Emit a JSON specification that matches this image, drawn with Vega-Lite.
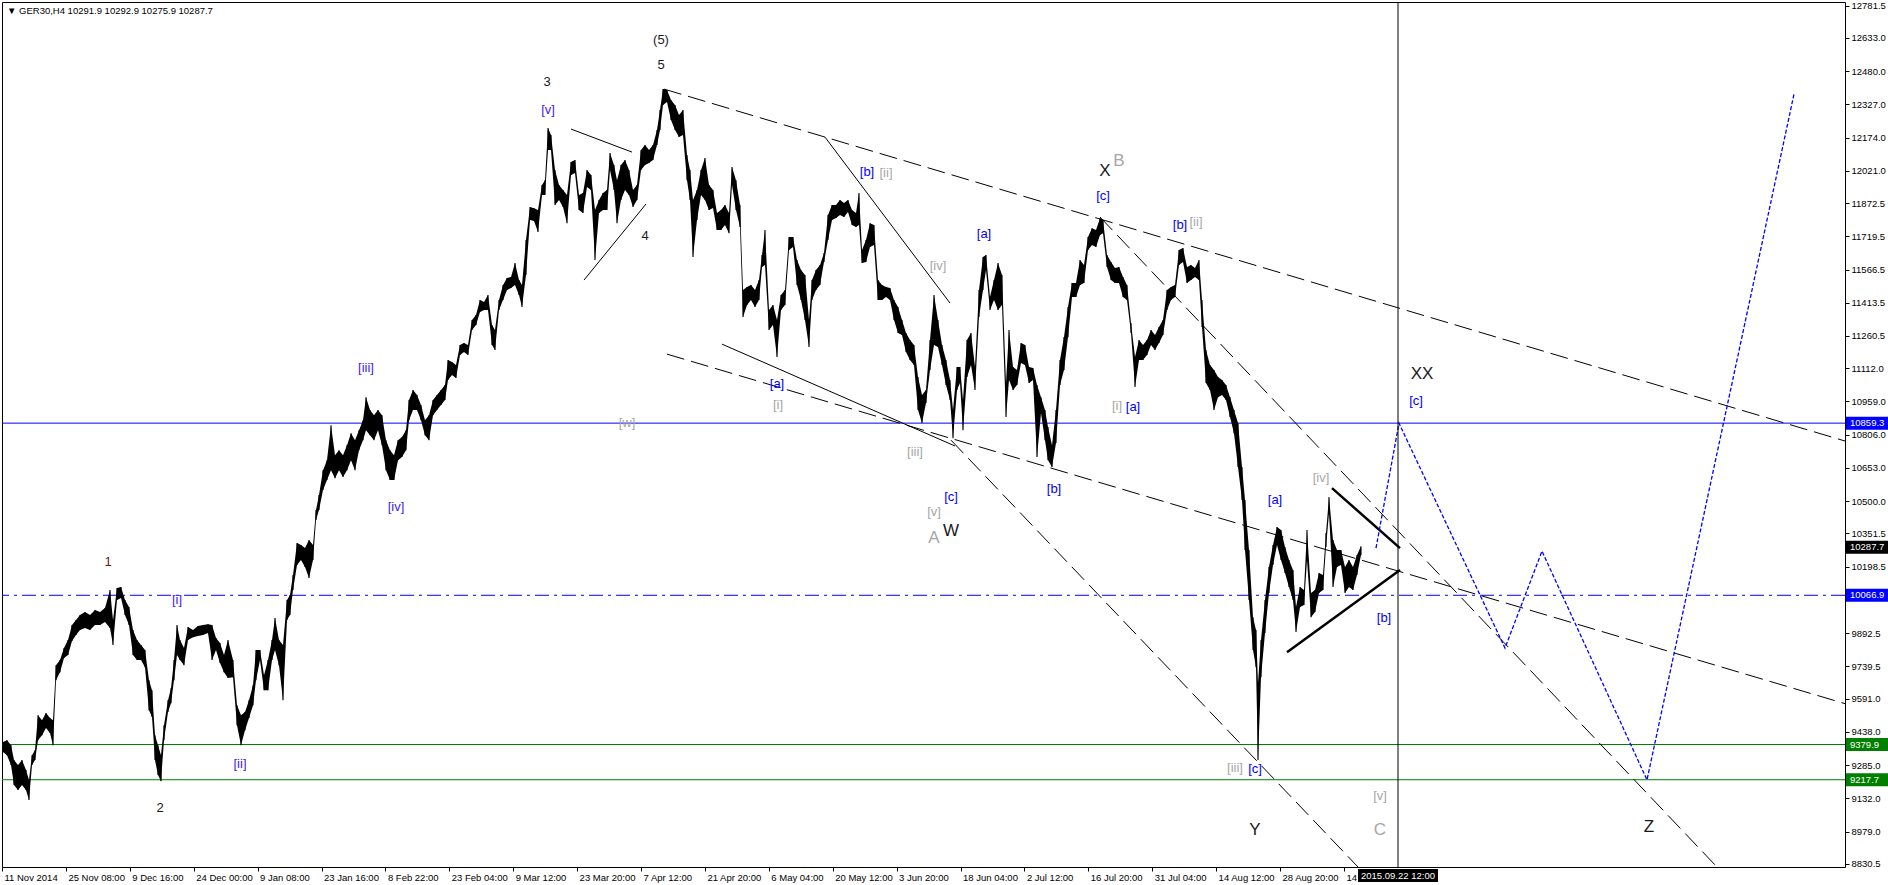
{
"$schema":"https://vega.github.io/schema/vega-lite/v6.json",
"width":1843,"height":865,"autosize":"none",
"padding":{"left":2,"top":2,"right":43,"bottom":18},
"background":"white",
"config":{"view":{"stroke":"black","strokeWidth":1},"font":"Liberation Sans",
 "axis":{"grid":false,"domain":false,"tickColor":"black","tickSize":4,"labelColor":"black","labelFontSize":9.5,"labelFont":"Liberation Sans","labelOverlap":false,"labelFlush":false,"labelBound":false}},
"datasets":{
"one":[{}],
"px":[
{"t":0,"h":9391,"l":9345},{"t":4,"h":9400,"l":9331},{"t":8,"h":9377,"l":9285},{"t":11,"h":9308,"l":9193},{"t":15,"h":9285,"l":9170},{"t":19,"h":9308,"l":9193},{"t":23,"h":9262,"l":9170},{"t":26,"h":9216,"l":9124},{"t":29,"h":9331,"l":9285},{"t":32,"h":9354,"l":9308},{"t":35,"h":9515,"l":9400},{"t":39,"h":9492,"l":9423},{"t":43,"h":9525,"l":9456},{"t":47,"h":9502,"l":9433},{"t":50,"h":9492,"l":9377},{"t":53,"h":9745,"l":9676},{"t":57,"h":9769,"l":9713},{"t":61,"h":9824,"l":9778},{"t":65,"h":9861,"l":9792},{"t":69,"h":9930,"l":9856},{"t":73,"h":9953,"l":9884},{"t":77,"h":9976,"l":9907},{"t":82,"h":9990,"l":9916},{"t":87,"h":9976,"l":9907},{"t":92,"h":9999,"l":9930},{"t":97,"h":9990,"l":9930},{"t":102,"h":10008,"l":9944},{"t":107,"h":10091,"l":9916},{"t":110,"h":9953,"l":9838},{"t":114,"h":10100,"l":10045},{"t":118,"h":10105,"l":10054},{"t":122,"h":10045,"l":9976},{"t":126,"h":10013,"l":9930},{"t":130,"h":9907,"l":9792},{"t":134,"h":9861,"l":9769},{"t":138,"h":9838,"l":9769},{"t":142,"h":9815,"l":9736},{"t":146,"h":9676,"l":9538},{"t":149,"h":9630,"l":9506},{"t":152,"h":9423,"l":9308},{"t":155,"h":9377,"l":9239},{"t":158,"h":9331,"l":9211},{"t":161,"h":9469,"l":9400},{"t":165,"h":9584,"l":9529},{"t":168,"h":9639,"l":9570},{"t":171,"h":9769,"l":9676},{"t":174,"h":9930,"l":9792},{"t":177,"h":9861,"l":9769},{"t":181,"h":9824,"l":9745},{"t":185,"h":9921,"l":9861},{"t":190,"h":9907,"l":9874},{"t":195,"h":9925,"l":9879},{"t":200,"h":9930,"l":9884},{"t":205,"h":9934,"l":9893},{"t":209,"h":9930,"l":9769},{"t":213,"h":9870,"l":9815},{"t":217,"h":9847,"l":9755},{"t":221,"h":9792,"l":9713},{"t":225,"h":9861,"l":9686},{"t":230,"h":9769,"l":9690},{"t":234,"h":9561,"l":9469},{"t":238,"h":9515,"l":9377},{"t":242,"h":9529,"l":9446},{"t":246,"h":9584,"l":9502},{"t":250,"h":9653,"l":9561},{"t":253,"h":9815,"l":9676},{"t":257,"h":9815,"l":9769},{"t":261,"h":9699,"l":9630},{"t":265,"h":9769,"l":9630},{"t":269,"h":9861,"l":9769},{"t":272,"h":9962,"l":9815},{"t":276,"h":9861,"l":9745},{"t":280,"h":9838,"l":9584},{"t":284,"h":10045,"l":9953},{"t":287,"h":10068,"l":9976},{"t":290,"h":10160,"l":10091},{"t":294,"h":10307,"l":10206},{"t":298,"h":10298,"l":10229},{"t":302,"h":10284,"l":10197},{"t":306,"h":10321,"l":10146},{"t":310,"h":10298,"l":10229},{"t":313,"h":10459,"l":10413},{"t":316,"h":10528,"l":10459},{"t":320,"h":10643,"l":10551},{"t":324,"h":10689,"l":10597},{"t":328,"h":10850,"l":10643},{"t":332,"h":10712,"l":10606},{"t":336,"h":10735,"l":10643},{"t":340,"h":10712,"l":10611},{"t":344,"h":10758,"l":10643},{"t":348,"h":10813,"l":10689},{"t":352,"h":10781,"l":10643},{"t":356,"h":10827,"l":10735},{"t":360,"h":10873,"l":10781},{"t":363,"h":10979,"l":10827},{"t":367,"h":10920,"l":10804},{"t":371,"h":10896,"l":10781},{"t":375,"h":10920,"l":10827},{"t":379,"h":10896,"l":10758},{"t":383,"h":10781,"l":10643},{"t":387,"h":10735,"l":10597},{"t":391,"h":10712,"l":10597},{"t":395,"h":10781,"l":10689},{"t":399,"h":10795,"l":10703},{"t":403,"h":10827,"l":10735},{"t":406,"h":10966,"l":10873},{"t":410,"h":11012,"l":10920},{"t":414,"h":10989,"l":10920},{"t":418,"h":10943,"l":10873},{"t":422,"h":10873,"l":10804},{"t":426,"h":10896,"l":10781},{"t":430,"h":10966,"l":10896},{"t":434,"h":10989,"l":10920},{"t":438,"h":11012,"l":10943},{"t":442,"h":11035,"l":10966},{"t":445,"h":11150,"l":11058},{"t":449,"h":11141,"l":11081},{"t":453,"h":11127,"l":11067},{"t":457,"h":11219,"l":11173},{"t":461,"h":11228,"l":11187},{"t":465,"h":11219,"l":11173},{"t":469,"h":11334,"l":11288},{"t":473,"h":11357,"l":11311},{"t":477,"h":11426,"l":11371},{"t":481,"h":11417,"l":11380},{"t":485,"h":11449,"l":11380},{"t":489,"h":11311,"l":11219},{"t":492,"h":11288,"l":11196},{"t":496,"h":11426,"l":11380},{"t":500,"h":11495,"l":11426},{"t":504,"h":11527,"l":11472},{"t":508,"h":11532,"l":11481},{"t":512,"h":11596,"l":11495},{"t":516,"h":11518,"l":11449},{"t":519,"h":11495,"l":11394},{"t":523,"h":11702,"l":11541},{"t":527,"h":11854,"l":11794},{"t":531,"h":11849,"l":11790},{"t":535,"h":11840,"l":11739},{"t":539,"h":11955,"l":11909},{"t":542,"h":11978,"l":11909},{"t":545,"h":12218,"l":12117},{"t":548,"h":12186,"l":12117},{"t":552,"h":12025,"l":11863},{"t":556,"h":11955,"l":11886},{"t":560,"h":11932,"l":11854},{"t":564,"h":11909,"l":11780},{"t":568,"h":12061,"l":12002},{"t":572,"h":12071,"l":12011},{"t":576,"h":11909,"l":11840},{"t":580,"h":11919,"l":11827},{"t":584,"h":12025,"l":11946},{"t":588,"h":12002,"l":11932},{"t":592,"h":11840,"l":11610},{"t":596,"h":11886,"l":11827},{"t":600,"h":11919,"l":11840},{"t":604,"h":11932,"l":11840},{"t":607,"h":12103,"l":12025},{"t":611,"h":12048,"l":11932},{"t":614,"h":11978,"l":11780},{"t":618,"h":12048,"l":11886},{"t":622,"h":12071,"l":11932},{"t":626,"h":12025,"l":11909},{"t":630,"h":11932,"l":11854},{"t":634,"h":11955,"l":11886},{"t":638,"h":12117,"l":12025},{"t":642,"h":12140,"l":12048},{"t":646,"h":12117,"l":12057},{"t":650,"h":12140,"l":12071},{"t":654,"h":12209,"l":12140},{"t":657,"h":12301,"l":12209},{"t":660,"h":12397,"l":12324},{"t":664,"h":12393,"l":12338},{"t":668,"h":12347,"l":12255},{"t":672,"h":12324,"l":12209},{"t":676,"h":12278,"l":12177},{"t":680,"h":12301,"l":12186},{"t":684,"h":12094,"l":11978},{"t":687,"h":12025,"l":11886},{"t":690,"h":11886,"l":11624},{"t":694,"h":11932,"l":11794},{"t":698,"h":12025,"l":11909},{"t":702,"h":12080,"l":11886},{"t":706,"h":11955,"l":11840},{"t":710,"h":11932,"l":11850},{"t":714,"h":11827,"l":11748},{"t":718,"h":11840,"l":11748},{"t":722,"h":11863,"l":11771},{"t":726,"h":11827,"l":11734},{"t":729,"h":12038,"l":11955},{"t":733,"h":11978,"l":11840},{"t":737,"h":11863,"l":11762},{"t":740,"h":11472,"l":11348},{"t":744,"h":11486,"l":11403},{"t":748,"h":11495,"l":11426},{"t":752,"h":11472,"l":11394},{"t":756,"h":11518,"l":11426},{"t":759,"h":11633,"l":11578},{"t":762,"h":11748,"l":11587},{"t":766,"h":11380,"l":11288},{"t":770,"h":11403,"l":11311},{"t":774,"h":11334,"l":11164},{"t":778,"h":11449,"l":11380},{"t":782,"h":11472,"l":11403},{"t":786,"h":11716,"l":11656},{"t":790,"h":11716,"l":11670},{"t":794,"h":11610,"l":11495},{"t":798,"h":11564,"l":11426},{"t":802,"h":11541,"l":11334},{"t":806,"h":11334,"l":11210},{"t":809,"h":11518,"l":11426},{"t":813,"h":11564,"l":11472},{"t":817,"h":11587,"l":11495},{"t":821,"h":11642,"l":11601},{"t":825,"h":11817,"l":11702},{"t":829,"h":11863,"l":11794},{"t":833,"h":11863,"l":11804},{"t":837,"h":11886,"l":11817},{"t":841,"h":11873,"l":11808},{"t":845,"h":11886,"l":11831},{"t":849,"h":11840,"l":11771},{"t":853,"h":11827,"l":11762},{"t":856,"h":11919,"l":11771},{"t":859,"h":11656,"l":11596},{"t":863,"h":11702,"l":11601},{"t":867,"h":11780,"l":11670},{"t":871,"h":11771,"l":11679},{"t":875,"h":11518,"l":11426},{"t":879,"h":11495,"l":11426},{"t":883,"h":11486,"l":11440},{"t":887,"h":11481,"l":11426},{"t":891,"h":11426,"l":11334},{"t":895,"h":11394,"l":11274},{"t":899,"h":11334,"l":11265},{"t":903,"h":11274,"l":11187},{"t":907,"h":11242,"l":11150},{"t":911,"h":11219,"l":11127},{"t":915,"h":11072,"l":10920},{"t":919,"h":10989,"l":10860},{"t":923,"h":11012,"l":10952},{"t":927,"h":11242,"l":11104},{"t":931,"h":11449,"l":11219},{"t":935,"h":11334,"l":11210},{"t":939,"h":11219,"l":11127},{"t":943,"h":11150,"l":11035},{"t":947,"h":11058,"l":10966},{"t":950,"h":10920,"l":10790},{"t":954,"h":11118,"l":11012},{"t":957,"h":11118,"l":11044},{"t":960,"h":10966,"l":10827},{"t":964,"h":11242,"l":11072},{"t":968,"h":11274,"l":11127},{"t":972,"h":11118,"l":11012},{"t":976,"h":11472,"l":11348},{"t":980,"h":11624,"l":11472},{"t":983,"h":11633,"l":11564},{"t":987,"h":11440,"l":11380},{"t":991,"h":11518,"l":11426},{"t":995,"h":11596,"l":11380},{"t":999,"h":11541,"l":11403},{"t":1003,"h":11044,"l":10887},{"t":1006,"h":11288,"l":11058},{"t":1010,"h":11118,"l":11012},{"t":1014,"h":11104,"l":11035},{"t":1018,"h":11228,"l":11136},{"t":1022,"h":11219,"l":11127},{"t":1026,"h":11118,"l":11044},{"t":1030,"h":11113,"l":11058},{"t":1034,"h":11035,"l":10703},{"t":1038,"h":10979,"l":10906},{"t":1042,"h":10920,"l":10781},{"t":1045,"h":10841,"l":10689},{"t":1049,"h":10758,"l":10657},{"t":1053,"h":10920,"l":10768},{"t":1057,"h":11150,"l":11035},{"t":1061,"h":11256,"l":11104},{"t":1065,"h":11394,"l":11256},{"t":1069,"h":11504,"l":11440},{"t":1073,"h":11504,"l":11440},{"t":1077,"h":11610,"l":11495},{"t":1081,"h":11587,"l":11504},{"t":1085,"h":11716,"l":11656},{"t":1089,"h":11757,"l":11679},{"t":1093,"h":11748,"l":11670},{"t":1097,"h":11803,"l":11725},{"t":1100,"h":11794,"l":11734},{"t":1104,"h":11633,"l":11578},{"t":1108,"h":11601,"l":11518},{"t":1112,"h":11573,"l":11504},{"t":1116,"h":11578,"l":11504},{"t":1120,"h":11532,"l":11440},{"t":1124,"h":11495,"l":11426},{"t":1128,"h":11320,"l":11274},{"t":1132,"h":11164,"l":11026},{"t":1136,"h":11242,"l":11150},{"t":1140,"h":11219,"l":11150},{"t":1144,"h":11242,"l":11173},{"t":1148,"h":11288,"l":11219},{"t":1152,"h":11265,"l":11196},{"t":1156,"h":11302,"l":11228},{"t":1160,"h":11334,"l":11265},{"t":1164,"h":11472,"l":11380},{"t":1168,"h":11486,"l":11426},{"t":1172,"h":11495,"l":11440},{"t":1176,"h":11656,"l":11587},{"t":1180,"h":11665,"l":11601},{"t":1184,"h":11578,"l":11504},{"t":1188,"h":11587,"l":11518},{"t":1192,"h":11573,"l":11532},{"t":1196,"h":11610,"l":11518},{"t":1199,"h":11426,"l":11302},{"t":1203,"h":11196,"l":11044},{"t":1207,"h":11127,"l":11012},{"t":1211,"h":11104,"l":10920},{"t":1215,"h":11072,"l":10979},{"t":1219,"h":11058,"l":10989},{"t":1223,"h":11035,"l":10966},{"t":1227,"h":10979,"l":10887},{"t":1231,"h":10920,"l":10813},{"t":1235,"h":10860,"l":10657},{"t":1239,"h":10657,"l":10505},{"t":1242,"h":10505,"l":10275},{"t":1246,"h":10275,"l":10045},{"t":1250,"h":9966,"l":9815},{"t":1253,"h":9907,"l":9736},{"t":1255,"h":9663,"l":9308},{"t":1258,"h":9861,"l":9690},{"t":1262,"h":10045,"l":9893},{"t":1266,"h":10197,"l":10077},{"t":1270,"h":10298,"l":10206},{"t":1274,"h":10381,"l":10298},{"t":1278,"h":10367,"l":10229},{"t":1282,"h":10289,"l":10169},{"t":1286,"h":10229,"l":10105},{"t":1290,"h":10183,"l":10045},{"t":1293,"h":10013,"l":9898},{"t":1297,"h":10105,"l":10013},{"t":1301,"h":10091,"l":10022},{"t":1304,"h":10367,"l":10229},{"t":1308,"h":10077,"l":9966},{"t":1312,"h":10091,"l":9990},{"t":1316,"h":10169,"l":10077},{"t":1320,"h":10160,"l":10091},{"t":1323,"h":10353,"l":10289},{"t":1326,"h":10519,"l":10445},{"t":1330,"h":10321,"l":10105},{"t":1334,"h":10275,"l":10197},{"t":1338,"h":10275,"l":10206},{"t":1342,"h":10197,"l":10077},{"t":1346,"h":10229,"l":10105},{"t":1350,"h":10197,"l":10091},{"t":1354,"h":10252,"l":10160},{"t":1358,"h":10293,"l":10252}
],
"dash":[
{"id":"u","t":661,"p":12397},{"id":"u","t":1842,"p":10777},
{"id":"lo","t":664,"p":11177},{"id":"lo","t":1842,"p":9568},
{"id":"w","t":948,"p":10781},{"id":"w","t":1355,"p":8816},
{"id":"x","t":1097,"p":11808},{"id":"x","t":1714,"p":8816}
],
"thin":[
{"id":"a","t":822,"p":12176},{"id":"a","t":947,"p":11412},
{"id":"b","t":719,"p":11223},{"id":"b","t":952,"p":10754},
{"id":"c","t":568,"p":12213},{"id":"c","t":629,"p":12107},
{"id":"d","t":581,"p":11518},{"id":"d","t":643,"p":11868}
],
"thick":[
{"id":"a","t":1329,"p":10560},{"id":"a","t":1397,"p":10284},
{"id":"b","t":1284,"p":9805},{"id":"b","t":1397,"p":10183}
],
"proj":[
{"t":1373,"p":10284},{"t":1396,"p":10859},{"t":1502,"p":9824},{"t":1539,"p":10270},{"t":1644,"p":9217},{"t":1791,"p":12374}
],
"small":[
{"t":545,"p":12301,"s":"[v]","k":"violet"},{"t":174,"p":10045,"s":"[i]","k":"violet"},{"t":237,"p":9290,"s":"[ii]","k":"violet"},{"t":363,"p":11113,"s":"[iii]","k":"violet"},{"t":393,"p":10473,"s":"[iv]","k":"violet"},
{"t":658,"p":12623,"s":"(5)","k":"dark"},{"t":658,"p":12508,"s":"5","k":"dark"},{"t":544,"p":12430,"s":"3","k":"dark"},{"t":642,"p":11721,"s":"4","k":"dark"},{"t":157,"p":9087,"s":"2","k":"dark"},{"t":105,"p":10220,"s":"1","k":"maroon"},
{"t":774,"p":11039,"s":"[a]","k":"blue"},{"t":864,"p":12015,"s":"[b]","k":"blue"},{"t":948,"p":10519,"s":"[c]","k":"blue"},{"t":1100,"p":11905,"s":"[c]","k":"blue"},{"t":981,"p":11730,"s":"[a]","k":"blue"},{"t":1177,"p":11771,"s":"[b]","k":"blue"},{"t":1130,"p":10933,"s":"[a]","k":"blue"},{"t":1051,"p":10556,"s":"[b]","k":"blue"},{"t":1272,"p":10505,"s":"[a]","k":"blue"},{"t":1381,"p":9962,"s":"[b]","k":"blue"},{"t":1252,"p":9267,"s":"[c]","k":"blue"},{"t":1413,"p":10961,"s":"[c]","k":"blue"},
{"t":624,"p":10860,"s":"[w]","k":"gray"},{"t":775,"p":10943,"s":"[i]","k":"gray"},{"t":883,"p":12011,"s":"[ii]","k":"gray"},{"t":935,"p":11583,"s":"[iv]","k":"gray"},{"t":912,"p":10726,"s":"[iii]","k":"gray"},{"t":931,"p":10450,"s":"[v]","k":"gray"},{"t":1193,"p":11785,"s":"[ii]","k":"gray"},{"t":1114,"p":10938,"s":"[i]","k":"gray"},{"t":1318,"p":10606,"s":"[iv]","k":"gray"},{"t":1232,"p":9271,"s":"[iii]","k":"gray"},{"t":1377,"p":9142,"s":"[v]","k":"gray"}
],
"big":[
{"t":1102,"p":12020,"s":"X","k":"dark"},{"t":948,"p":10363,"s":"W","k":"dark"},{"t":1252,"p":8986,"s":"Y","k":"dark"},{"t":1419,"p":11085,"s":"XX","k":"dark"},{"t":1646,"p":8999,"s":"Z","k":"dark"},
{"t":1116,"p":12066,"s":"B","k":"gray"},{"t":931,"p":10330,"s":"A","k":"gray"},{"t":1377,"p":8985,"s":"C","k":"gray"}
],
"tags":[{"p":10859.3,"k":"blue"},{"p":10287.7,"k":"black"},{"p":10066.9,"k":"blue"},{"p":9379.9,"k":"green"},{"p":9217.7,"k":"green"}]
},
"layer":[
{"data":{"name":"tags"},"transform":[{"filter":"datum.p==10859.3"}],"mark":{"type":"rule","color":"#0000ff","strokeWidth":1},
 "encoding":{"y":{"field":"p","type":"quantitative","scale":{"domain":[8816,12798],"nice":false,"zero":false},
   "axis":{"orient":"right","title":null,"labelOverlap":false,"tickCount":60,"values":[8830.5,8979.0,9132.0,9285.0,9438.0,9591.0,9739.5,9892.5,10198.5,10351.5,10500.0,10653.0,10806.0,10959.0,11112.0,11260.5,11413.5,11566.5,11719.5,11872.5,12021.0,12174.0,12327.0,12480.0,12633.0,12781.5],"format":".1f","labelPadding":2}}}},
{"data":{"name":"tags"},"transform":[{"filter":"datum.p==10066.9"}],"mark":{"type":"rule","color":"#0000ff","strokeWidth":1,"strokeDash":[14,5,3,5]},
 "encoding":{"y":{"field":"p","type":"quantitative"}}},
{"data":{"name":"tags"},"transform":[{"filter":"datum.k=='green'"}],"mark":{"type":"rule","color":"#008000","strokeWidth":1},
 "encoding":{"y":{"field":"p","type":"quantitative"}}},
{"data":{"name":"px"},"mark":{"type":"area","color":"black"},
 "encoding":{"x":{"field":"t","type":"quantitative","scale":{"domain":[-1,1842],"nice":false,"zero":false},
   "axis":{"title":null,"labelOverlap":false,"tickCount":60,"values":[-1,62.9,126.8,190.7,254.6,318.5,382.4,446.3,510.2,574.1,638,701.9,765.8,829.7,893.6,957.5,1021.4,1085.3,1149.2,1213.1,1277,1340.9],
   "labelExpr":"['11 Nov 2014','25 Nov 08:00','9 Dec 16:00','24 Dec 00:00','9 Jan 08:00','23 Jan 16:00','8 Feb 22:00','23 Feb 04:00','9 Mar 12:00','23 Mar 20:00','7 Apr 12:00','21 Apr 20:00','6 May 04:00','20 May 12:00','3 Jun 20:00','18 Jun 04:00','2 Jul 12:00','16 Jul 20:00','31 Jul 04:00','14 Aug 12:00','28 Aug 20:00','14'][round((datum.value+1)/63.9)]",
   "labelAlign":"left","labelOffset":2,"labelPadding":1}},
  "y":{"field":"l","type":"quantitative"},"y2":{"field":"h"}}},
{"data":{"name":"px"},"mark":{"type":"rule","color":"black","strokeWidth":1.1},
 "encoding":{"x":{"field":"t","type":"quantitative"},"y":{"field":"l","type":"quantitative"},"y2":{"field":"h"}}},
{"data":{"name":"dash"},"mark":{"type":"line","color":"black","strokeWidth":1,"strokeDash":[18,7]},
 "encoding":{"x":{"field":"t","type":"quantitative"},"y":{"field":"p","type":"quantitative"},"detail":{"field":"id"}}},
{"data":{"name":"thin"},"mark":{"type":"line","color":"black","strokeWidth":1},
 "encoding":{"x":{"field":"t","type":"quantitative"},"y":{"field":"p","type":"quantitative"},"detail":{"field":"id"}}},
{"data":{"name":"thick"},"mark":{"type":"line","color":"black","strokeWidth":2.5},
 "encoding":{"x":{"field":"t","type":"quantitative"},"y":{"field":"p","type":"quantitative"},"detail":{"field":"id"}}},
{"data":{"name":"proj"},"mark":{"type":"line","color":"#0000ff","strokeWidth":1.3,"strokeDash":[4,2]},
 "encoding":{"x":{"field":"t","type":"quantitative","sort":null},"y":{"field":"p","type":"quantitative"},"order":{"field":"t"}}},
{"data":{"name":"one"},"mark":{"type":"rule","color":"black","strokeWidth":1},"encoding":{"x":{"datum":1395,"type":"quantitative"}}},
{"data":{"name":"small"},"mark":{"type":"text","fontSize":13,"font":"Liberation Sans","align":"center","baseline":"middle"},
 "encoding":{"x":{"field":"t","type":"quantitative"},"y":{"field":"p","type":"quantitative"},"text":{"field":"s"},
  "color":{"field":"k","type":"nominal","legend":null,"scale":{"domain":["blue","violet","gray","dark","maroon"],"range":["#0000ff","#4422ee","#a6a6a6","#1a1a1a","#6b1a1a"]}}}},
{"data":{"name":"big"},"mark":{"type":"text","fontSize":17,"font":"Liberation Sans","align":"center","baseline":"middle"},
 "encoding":{"x":{"field":"t","type":"quantitative"},"y":{"field":"p","type":"quantitative"},"text":{"field":"s"},
  "color":{"field":"k","type":"nominal","legend":null,"scale":{"domain":["blue","violet","gray","dark","maroon"],"range":["#0000ff","#4422ee","#a6a6a6","#1a1a1a","#6b1a1a"]}}}},
{"data":{"name":"tags"},"mark":{"type":"rect","xOffset":1,"x2Offset":43,"yOffset":-6.5,"y2Offset":6.5},
 "encoding":{"x":{"datum":1842,"type":"quantitative"},"x2":{"datum":1842},"y":{"field":"p","type":"quantitative"},"y2":{"field":"p"},
  "fill":{"field":"k","type":"nominal","legend":null,"scale":{"domain":["blue","black","green"],"range":["#0000ff","#000000","#008000"]}}}},
{"data":{"name":"tags"},"mark":{"type":"text","align":"left","baseline":"middle","dx":5,"fontSize":9.5,"font":"Liberation Sans","color":"white"},
 "encoding":{"x":{"datum":1842,"type":"quantitative"},"y":{"field":"p","type":"quantitative"},"text":{"field":"p","type":"quantitative","format":".1f"}}},
{"data":{"name":"one"},"mark":{"type":"rect","color":"black","xOffset":-40,"x2Offset":40,"yOffset":2,"y2Offset":15},
 "encoding":{"x":{"datum":1395,"type":"quantitative"},"x2":{"datum":1395},"y":{"datum":8816,"type":"quantitative"},"y2":{"datum":8816}}},
{"data":{"name":"one"},"mark":{"type":"text","color":"white","align":"center","baseline":"middle","dy":9,"fontSize":9.5,"font":"Liberation Sans"},
 "encoding":{"x":{"datum":1395,"type":"quantitative"},"y":{"datum":8816,"type":"quantitative"},"text":{"value":"2015.09.22 12:00"}}},
{"data":{"name":"one"},"mark":{"type":"text","color":"black","align":"left","baseline":"middle","dx":5,"dy":9,"fontSize":9.5,"font":"Liberation Sans"},
 "encoding":{"x":{"datum":-1,"type":"quantitative"},"y":{"datum":12798,"type":"quantitative"},"text":{"value":"▼ GER30,H4  10291.9 10292.9 10275.9 10287.7"}}}
]
}
